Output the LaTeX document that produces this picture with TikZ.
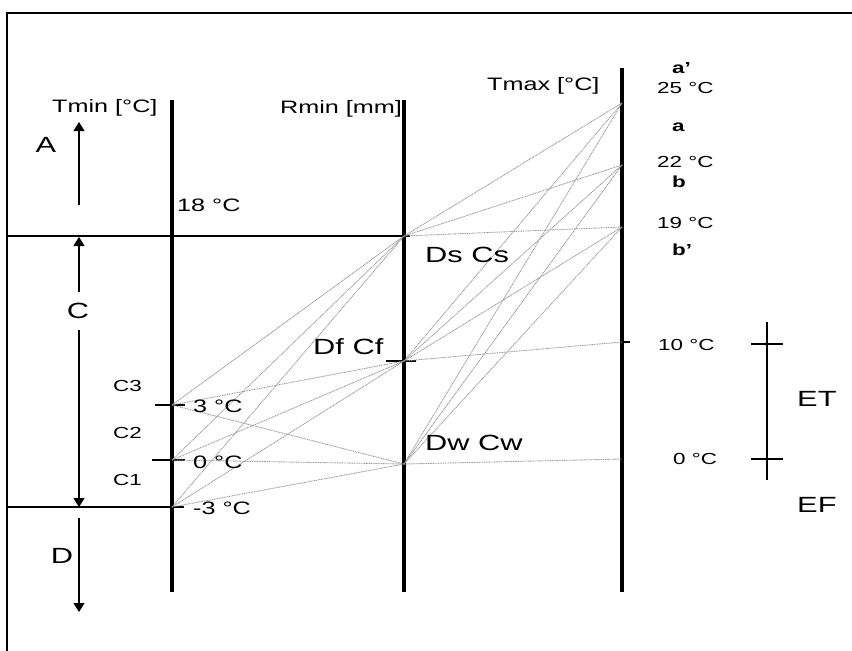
\documentclass[tikz,border=0pt]{standalone}
\usepackage{fontspec}
\setmainfont{Liberation Sans}[FakeStretch=1.4]
\usetikzlibrary{arrows.meta}
\begin{document}
\begin{tikzpicture}[x=1pt,y=-1pt]
  \tikzset{axisline/.style={line width=4pt},
    thin rule/.style={line width=1.1pt},
    link/.style={gray!80, line width=0.9pt, dash pattern=on 1pt off 0.7pt},
    zone arrow/.style={thin rule, -{Triangle[width=11pt,length=9pt]}},
    lab/.style={inner sep=0pt, anchor=west, font=\fontsize{18}{20}\selectfont},
    big lab/.style={inner sep=0pt, anchor=west, font=\fontsize{22}{24}\selectfont},
    small lab/.style={inner sep=0pt, anchor=west, font=\fontsize{16}{18}\selectfont},
    bold lab/.style={inner sep=0pt, anchor=west, font=\fontsize{16}{18}\selectfont\bfseries}}
  \useasboundingbox (0,0) rectangle (852,651);
  % frame
  \draw[thin rule] (7,651) -- (7,13) -- (852,13);
  % the three scales
  \draw[axisline] (172,100) -- (172,592);
  \draw[axisline] (404,100) -- (404,592);
  \draw[axisline] (622,68) -- (622,592);
  % points on the scales
  \coordinate (t3) at (172,405);
  \coordinate (t0) at (172,460);
  \coordinate (tm3) at (172,507);
  \coordinate (ds) at (404,236);
  \coordinate (df) at (404,361);
  \coordinate (dw) at (404,464);
  \coordinate (x25) at (622,103);
  \coordinate (x22) at (622,165);
  \coordinate (x19) at (622,227);
  \coordinate (x10) at (622,342);
  \coordinate (x0) at (622,459);
  % rules and ticks
  \draw[thin rule] (7,236) -- (410,236);
  \draw[thin rule] (7,507) -- (184,507);
  \draw[thin rule] (155,405) -- (185,405);
  \draw[thin rule] (152,460) -- (185,460);
  \draw[thin rule] (386,361) -- (416,361);
  \draw[thin rule] (x10) -- (630,342);
  % links
  \foreach \l in {t3,t0,tm3}
    \foreach \m in {ds,df,dw}
      \draw[link] (\l) -- (\m);
  \foreach \m/\r in {ds/x25,ds/x22,ds/x19,df/x25,df/x22,df/x19,df/x10,dw/x25,dw/x22,dw/x19,dw/x0}
    \draw[link] (\m) -- (\r);
  % zones on the left
  \draw[zone arrow] (79,205) -- (79,122);
  \draw[zone arrow] (79,292) -- (79,237);
  \draw[zone arrow] (79,330) -- (79,507);
  \draw[zone arrow] (79,518) -- (79,612);
  \node[big lab, anchor=center] (zA) at (46,145) {A};
  \node[big lab, anchor=center] (zC) at (78,311) {C};
  \node[big lab, anchor=center] (zD) at (62,556) {D};
  \node[small lab] (c3) at (113,386) {C3};
  \node[small lab] (c2) at (113,433) {C2};
  \node[small lab] (c1) at (113,480) {C1};
  % scale titles
  \node[lab] (tmin) at (52,108) {Tmin [°C]};
  \node[lab] (rmin) at (280,109) {Rmin [mm]};
  \node[lab] (tmax) at (487,86) {Tmax [°C]};
  % values on Tmin
  \node[lab] (v18) at (177,205) {18 °C};
  \node[lab] (v3) at (193,406) {3 °C};
  \node[lab] (v0) at (193,462) {0 °C};
  \node[lab] (vm3) at (193,508) {-3 °C};
  % climate labels on Rmin
  \node[big lab] (dscs) at (425,255) {Ds Cs};
  \node[big lab] (dfcf) at (313,347) {Df Cf};
  \node[big lab] (dwcw) at (425,443) {Dw Cw};
  % values on Tmax
  \node[bold lab] (ap) at (672,68) {a’};
  \node[small lab] (w25) at (657,88) {25 °C};
  \node[bold lab] (a) at (672,127) {a};
  \node[small lab] (w22) at (657,162) {22 °C};
  \node[bold lab] (b) at (672,182) {b};
  \node[small lab] (w19) at (657,223) {19 °C};
  \node[bold lab] (bp) at (672,250) {b’};
  \node[small lab] (w10) at (658,345) {10 °C};
  \node[small lab] (w0) at (673,459) {0 °C};
  % ET / EF bracket
  \coordinate (etTop) at (767,322);
  \coordinate (etBot) at (767,480);
  \draw[thin rule] (etTop) -- (etBot);
  \draw[thin rule] (751,344) -- (783,344);
  \draw[thin rule] (751,459) -- (783,459);
  \node[big lab] (et) at (797,399) {ET};
  \node[big lab] (ef) at (797,505) {EF};
\end{tikzpicture}
\end{document}
